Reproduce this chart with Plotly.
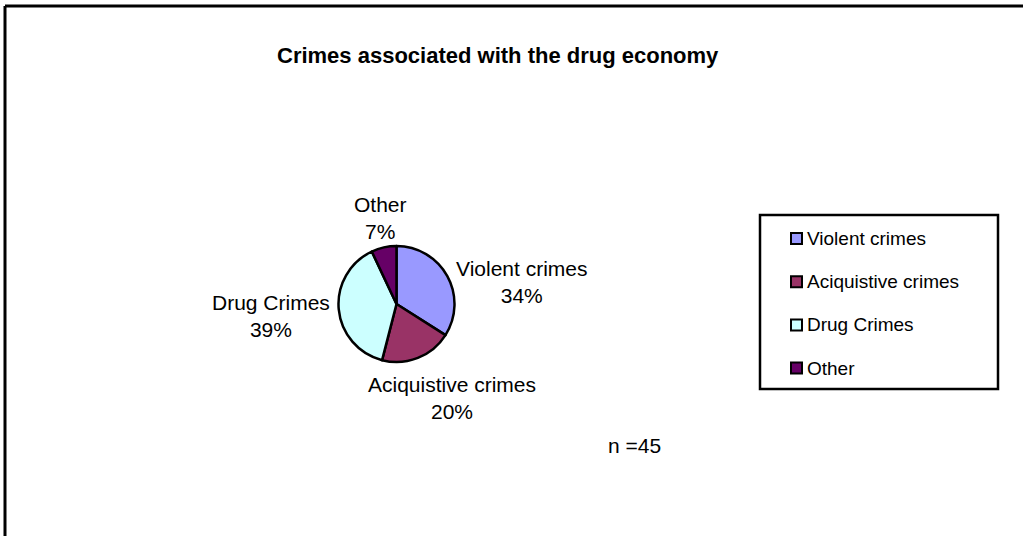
import plotly.graph_objects as go

# ---- data ----
categories = ["Violent crimes", "Aciquistive crimes", "Drug Crimes", "Other"]
percentages = [34, 20, 39, 7]
colors = ["#9999FF", "#993366", "#CCFFFF", "#660066"]
title_text = "Crimes associated with the drug economy"
sample_note = "n =45"

W, H = 1023, 536
FONT = "Liberation Sans, Arial, sans-serif"


def px(x):
    return x / W


def py(y):
    return 1 - y / H


# pie geometry (pixels)
cx, cy, r = 396.5, 304, 58

fig = go.Figure()
fig.add_trace(go.Pie(
    labels=categories,
    values=percentages,
    sort=False,
    direction="clockwise",
    rotation=0,
    marker=dict(colors=colors, line=dict(color="black", width=2.5)),
    textinfo="none",
    hoverinfo="label+percent",
    showlegend=False,
    domain=dict(x=[px(cx - r), px(cx + r)], y=[py(cy + r), py(cy - r)]),
))

annotations = []
shapes = []

# title
annotations.append(dict(
    text=f"<b>{title_text}</b>", x=px(498), y=py(56), xref="paper", yref="paper",
    showarrow=False, xanchor="center", yanchor="middle",
    font=dict(family=FONT, size=22, color="black"),
))

# slice labels
label_pos = [(522, 282), (452, 398), (271, 316), (380, 218)]
for cat, pct, (lx, ly) in zip(categories, percentages, label_pos):
    annotations.append(dict(
        text=f"{cat}<br>{pct}%", x=px(lx), y=py(ly), xref="paper", yref="paper",
        showarrow=False, xanchor="center", yanchor="middle", align="center",
        font=dict(family=FONT, size=21, color="black"),
    ))

# n note
annotations.append(dict(
    text=sample_note, x=px(606), y=py(445), xref="paper", yref="paper",
    showarrow=False, xanchor="left", yanchor="middle",
    font=dict(family=FONT, size=21, color="black"),
))

# outer frame (only top and left are visible)
shapes.append(dict(type="line", xref="paper", yref="paper",
                   x0=px(5), y0=py(6), x1=1.01, y1=py(6),
                   line=dict(color="black", width=3)))
shapes.append(dict(type="line", xref="paper", yref="paper",
                   x0=px(5), y0=py(6), x1=px(5), y1=-0.01,
                   line=dict(color="black", width=3)))

# manual legend
lg_x0, lg_y0, lg_x1, lg_y1 = 760, 215, 998, 389
shapes.append(dict(type="rect", xref="paper", yref="paper",
                   x0=px(lg_x0), y0=py(lg_y1), x1=px(lg_x1), y1=py(lg_y0),
                   line=dict(color="black", width=2.5), fillcolor="white", layer="below"))
row_y0, row_dy = 238.5, 43.2
for i, (cat, col) in enumerate(zip(categories, colors)):
    ry = row_y0 + i * row_dy
    shapes.append(dict(type="rect", xref="paper", yref="paper",
                       x0=px(791), y0=py(ry + 5.5), x1=px(802), y1=py(ry - 5.5),
                       line=dict(color="black", width=2), fillcolor=col))
    annotations.append(dict(
        text=cat, x=px(805), y=py(ry), xref="paper", yref="paper",
        showarrow=False, xanchor="left", yanchor="middle",
        font=dict(family=FONT, size=19, color="black"),
    ))

fig.update_layout(
    width=W, height=H,
    margin=dict(l=0, r=0, t=0, b=0),
    paper_bgcolor="white", plot_bgcolor="white",
    annotations=annotations, shapes=shapes,
    showlegend=False,
)

fig.write_html(
    "out.html",
    config={"displayModeBar": False},
    post_script="document.body.style.margin='0';document.body.style.overflow='hidden';",
)
